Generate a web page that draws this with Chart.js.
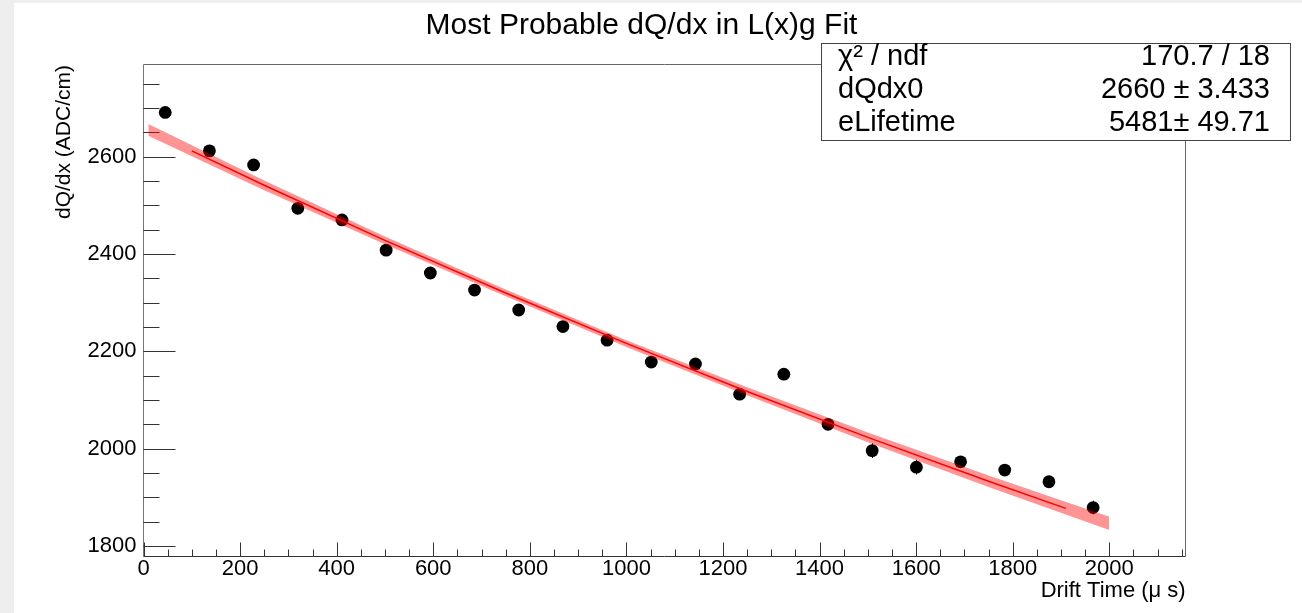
<!DOCTYPE html>
<html>
<head>
<meta charset="utf-8">
<title>Most Probable dQ/dx in L(x)g Fit</title>
<script src="https://cdn.jsdelivr.net/npm/chart.js@4.4.1/dist/chart.umd.min.js"></script>
<style>
  html, body { margin: 0; padding: 0; background: #eeeeee; overflow: hidden; }
  #wrap { position: absolute; left: 0; top: 0; width: 1302px; height: 613px; }
</style>
</head>
<body>
<div id="wrap"><canvas id="chart" width="1302" height="613"></canvas></div>
<script>
// measured points (drift time bin centres, most probable dQ/dx)
const driftTime = [45, 136.5, 228, 319.5, 411, 502.5, 594, 685.5, 777, 868.5, 960,
                   1051.5, 1143, 1234.5, 1326, 1417.5, 1509, 1600.5, 1692, 1783.5, 1875, 1966.5];
const dQdx = [2691, 2612, 2583, 2494, 2470, 2408, 2361, 2326, 2285, 2251, 2223,
              2178, 2174, 2112, 2153, 2050, 1996, 1962, 1973, 1956, 1932, 1879];
const dQdxErr = [7, 7, 7, 8, 8, 8, 8, 8, 9, 9, 9, 10, 10, 10, 11, 12, 15, 15, 12, 12, 12, 14];

// fit curve
const fitTime = [100, 250, 500, 750, 1000, 1250, 1500, 1750, 1910];
const fitValue = [2611.9, 2541.4, 2428.1, 2319.8, 2216.4, 2117.6, 2023.2, 1932.9, 1877.3];

// confidence band edges
const bandTime = [10, 250, 500, 750, 1000, 1250, 1500, 1750, 2000];
const bandUpper = [2667, 2551, 2436, 2327, 2223, 2126, 2033, 1945, 1860];
const bandLower = [2643, 2531, 2420, 2313, 2209, 2110, 2013, 1921, 1833];

// axis ticks
const xTickValues = [0, 200, 400, 600, 800, 1000, 1200, 1400, 1600, 1800, 2000];
const yTickValues = [1800, 2000, 2200, 2400, 2600];

// stats box
const statNames = ['χ² / ndf', 'dQdx0', 'eLifetime'];
const statValues = ['170.7 / 18', '2660 ± 3.433', '5481± 49.71'];

const FONT = '"Liberation Sans", Arial, Helvetica, sans-serif';

function xy(xs, ys) {
    return xs.map((v, i) => ({ x: v, y: ys[i] }));
}

// ROOT-like frame, ticks and texts
const rootStyle = {
    id: 'rootStyle',
    beforeDraw(chart) {
        const ctx = chart.ctx;
        ctx.save();
        ctx.fillStyle = '#eeeeee';
        ctx.fillRect(0, 0, chart.width, chart.height);
        ctx.fillStyle = '#ffffff';
        ctx.fillRect(14, 3, chart.width - 14, chart.height - 3);
        ctx.restore();
    },
    beforeDatasetsDraw(chart) {
        const { ctx, chartArea: a, scales: { x, y } } = chart;
        const L = Math.floor(a.left) + 0.5;
        const R = Math.floor(a.right) + 0.5;
        const T = Math.floor(a.top) + 0.5;
        const B = Math.floor(a.bottom) + 0.5;
        ctx.save();
        ctx.lineWidth = 1;

        // frame top / right
        ctx.strokeStyle = '#666666';
        ctx.beginPath();
        ctx.moveTo(L, T); ctx.lineTo(R, T); ctx.lineTo(R, B);
        ctx.stroke();

        // y axis
        ctx.strokeStyle = '#777777';
        ctx.beginPath();
        ctx.moveTo(L, T); ctx.lineTo(L, B);
        ctx.stroke();
        ctx.strokeStyle = '#333333';
        ctx.beginPath();
        for (let v = Math.ceil(y.min / 50) * 50; v <= y.max; v += 50) {
            const py = Math.round(y.getPixelForValue(v)) + 0.5;
            const len = v % 200 === 0 ? 32 : 16;
            ctx.moveTo(L, py); ctx.lineTo(L + len, py);
        }
        ctx.stroke();

        // x axis
        ctx.strokeStyle = '#333333';
        ctx.beginPath();
        ctx.moveTo(L, B); ctx.lineTo(R, B);
        for (let v = 0; v <= x.max; v += 50) {
            const px = Math.round(x.getPixelForValue(v)) + 0.5;
            const len = v % 200 === 0 ? 14 : 7;
            ctx.moveTo(px, B); ctx.lineTo(px, B - len);
        }
        ctx.stroke();
        ctx.restore();
    },
    afterDatasetDraw(chart, args) {
        // error bars on the measured points, under the band
        if (args.index !== 3) return;
        const { ctx, scales: { x, y } } = chart;
        ctx.save();
        ctx.strokeStyle = '#000000';
        ctx.lineWidth = 1;
        ctx.beginPath();
        driftTime.forEach((t, i) => {
            const px = Math.round(x.getPixelForValue(t)) + 0.5;
            ctx.moveTo(px, y.getPixelForValue(dQdx[i] + dQdxErr[i]));
            ctx.lineTo(px, y.getPixelForValue(dQdx[i] - dQdxErr[i]));
        });
        ctx.stroke();
        ctx.restore();
    },
    afterDraw(chart) {
        const { ctx, chartArea: a } = chart;
        ctx.save();
        ctx.fillStyle = '#000000';

        // title
        ctx.font = '30px ' + FONT;
        ctx.textAlign = 'center';
        ctx.textBaseline = 'alphabetic';
        ctx.fillText('Most Probable dQ/dx in L(x)g Fit', 641.5, 33.5);

        // x axis title
        ctx.font = '22px ' + FONT;
        ctx.textAlign = 'right';
        ctx.fillText('Drift Time (μ s)', a.right, 597);

        // y axis title
        ctx.save();
        ctx.font = '21px ' + FONT;
        ctx.translate(69.5, 65);
        ctx.rotate(-Math.PI / 2);
        ctx.textAlign = 'right';
        ctx.fillText('dQ/dx (ADC/cm)', 0, 0);
        ctx.restore();

        // stats box
        ctx.fillStyle = '#ffffff';
        ctx.fillRect(821.5, 43.5, 469, 97);
        ctx.strokeStyle = '#444444';
        ctx.lineWidth = 1;
        ctx.strokeRect(821.5, 43.5, 469, 97);
        ctx.fillStyle = '#000000';
        ctx.font = '29px ' + FONT;
        const rows = [65, 98, 131];
        statNames.forEach((name, i) => {
            ctx.textAlign = 'left';
            ctx.fillText(name, 838, rows[i]);
            ctx.textAlign = 'right';
            ctx.fillText(statValues[i], 1270, rows[i]);
        });
        ctx.restore();
    }
};

const tickFont = { family: FONT, size: 22, lineHeight: 1 };

new Chart(document.getElementById('chart'), {
    type: 'line',
    data: {
        datasets: [
            {
                label: 'fit',
                data: xy(fitTime, fitValue),
                borderColor: '#ff0000',
                borderWidth: 1.5,
                pointRadius: 0,
                fill: false,
                tension: 0
            },
            {
                label: 'band upper',
                data: xy(bandTime, bandUpper),
                borderColor: 'transparent',
                borderWidth: 0,
                pointRadius: 0,
                backgroundColor: 'rgba(255, 0, 0, 0.42)',
                fill: '+1',
                tension: 0
            },
            {
                label: 'band lower',
                data: xy(bandTime, bandLower),
                borderColor: 'transparent',
                borderWidth: 0,
                pointRadius: 0,
                fill: false,
                tension: 0
            },
            {
                label: 'dQ/dx',
                data: xy(driftTime, dQdx),
                showLine: false,
                pointRadius: 6.4,
                pointBorderWidth: 0,
                pointBackgroundColor: '#000000',
                pointBorderColor: '#000000'
            }
        ]
    },
    options: {
        responsive: false,
        animation: false,
        events: [],
        devicePixelRatio: 1,
        layout: { padding: { top: 64, right: 116.3, bottom: 0, left: 0 } },
        plugins: {
            legend: { display: false },
            tooltip: { enabled: false },
            title: { display: false }
        },
        scales: {
            x: {
                type: 'linear',
                min: 0,
                max: 2158.2,
                afterBuildTicks: s => { s.ticks = xTickValues.map(v => ({ value: v })); },
                afterFit: s => { s.height = 57; },
                grid: { display: false, drawTicks: false },
                border: { display: false },
                ticks: {
                    autoSkip: false,
                    maxRotation: 0,
                    padding: 2,
                    color: '#000000',
                    font: tickFont,
                    callback: v => String(v)
                }
            },
            y: {
                type: 'linear',
                min: 1779.45,
                max: 2790.5,
                afterBuildTicks: s => { s.ticks = yTickValues.map(v => ({ value: v })); },
                afterFit: s => { s.width = 143.5; },
                grid: { display: false, drawTicks: false },
                border: { display: false },
                ticks: {
                    padding: 7,
                    color: '#000000',
                    font: tickFont,
                    callback: v => String(v)
                }
            }
        }
    },
    plugins: [rootStyle]
});
</script>
</body>
</html>
